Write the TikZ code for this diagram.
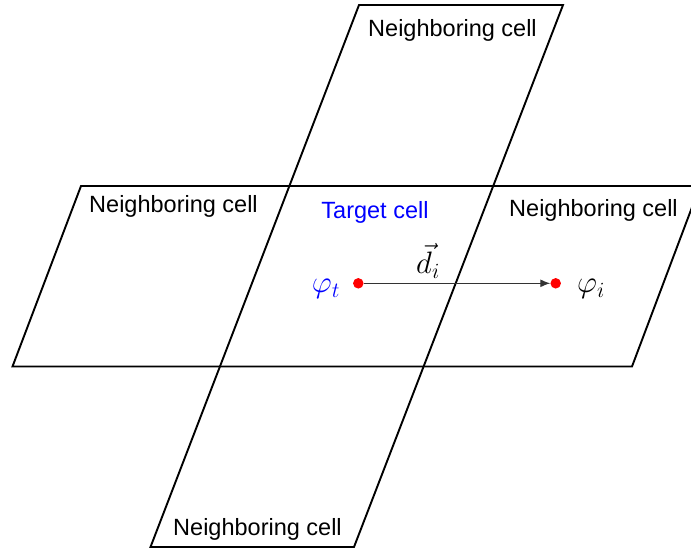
\RequirePackage{fix-cm}
\documentclass[tikz,border=0pt]{standalone}
\usepackage{fontspec}
\setmainfont{Liberation Sans}
\usetikzlibrary{arrows.meta}
\begin{document}
\begin{tikzpicture}[x=1pt,y=-1pt,
  cell/.style={draw=black, line width=1.9pt, line join=miter},
  lbl/.style={font=\fontsize{23.5}{28}\selectfont, anchor=base, inner sep=0pt},
  mlbl/.style={font=\fontsize{31}{34}\selectfont, inner sep=0pt},
  pdot/.style={circle, fill=red, draw=none, inner sep=0pt, minimum size=10.5pt},
  conn/.style={draw=black!80, line width=1.1pt, -{Latex[length=10pt,width=8pt]}}]
\useasboundingbox (0,0) rectangle (691,550);
\clip (0,0) rectangle (691,550);
% horizontal row of cells
\coordinate (h1) at (81,186);
\coordinate (h2) at (700,186);
\coordinate (h3) at (632,366.5);
\coordinate (h4) at (12.5,366.5);
\path[cell] (h1) -- (h2) -- (h3) -- (h4) -- cycle;
% vertical column of cells
\coordinate (v1) at (359,5);
\coordinate (v2) at (563,5);
\coordinate (v3) at (354,547);
\coordinate (v4) at (150.5,547);
\path[cell] (v1) -- (v2) -- (v3) -- (v4) -- cycle;
% labels
\node[lbl] (ntop) at (452.5,36) {Neighboring cell};
\node[lbl] (nleft) at (173.5,212.7) {Neighboring cell};
\node[lbl] (nright) at (593.5,216.7) {Neighboring cell};
\node[lbl] (nbot) at (257.5,535) {Neighboring cell};
\node[lbl, text=blue] (target) at (375,218) {Target cell};
% points
\node[pdot] (pt) at (358.3,283.3) {};
\node[pdot] (pi) at (555.7,283.3) {};
\draw[conn] (pt) -- (pi);
\node[mlbl, text=blue] (phit) at (326,289) {$\varphi_t$};
\node[mlbl] (phii) at (591,289) {$\varphi_i$};
\node[mlbl] (di) at (428,261) {$\vec{d}_i$};
\end{tikzpicture}
\end{document}
